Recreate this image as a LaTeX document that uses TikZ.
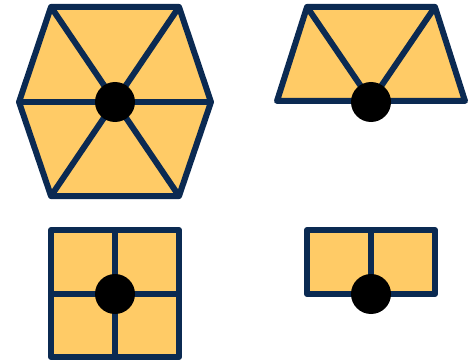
\documentclass[tikz,border=0pt]{standalone}
\definecolor{tilefill}{HTML}{FFCB66}
\definecolor{tileline}{HTML}{0B2A52}
\tikzset{tile/.style={draw=tileline,fill=tilefill,line width=6pt,line join=round},
  cut/.style={draw=tileline,line width=6pt},
  pivot/.style={fill=black}}
\begin{document}
\begin{tikzpicture}[x=1pt,y=-1pt]
\useasboundingbox (0,0) rectangle (469,361);
% hexagon
\draw[tile] (51,7) -- (179,7) -- (211,102) -- (179,196) -- (51,196) -- (19,102) -- cycle;
\foreach \a/\b in {51/179,179/51} \draw[cut] (\a,7) -- (\b,196);
\draw[cut] (19,102) -- (211,102);
\fill[pivot] (115,102) circle (20);
% trapezoid
\draw[tile] (307,7) -- (435,7) -- (465,101) -- (277,101) -- cycle;
\foreach \x in {307,435} \draw[cut] (\x,7) -- (371,101);
\fill[pivot] (371,102) circle (20);
% square
\draw[tile] (51,230) rectangle (179,357);
\draw[cut] (115,230) -- (115,357);
\draw[cut] (51,294) -- (179,294);
\fill[pivot] (115,294) circle (20);
% rectangle
\draw[tile] (307,230) rectangle (435,294);
\draw[cut] (371,230) -- (371,294);
\fill[pivot] (371,294) circle (20);
\end{tikzpicture}
\end{document}
